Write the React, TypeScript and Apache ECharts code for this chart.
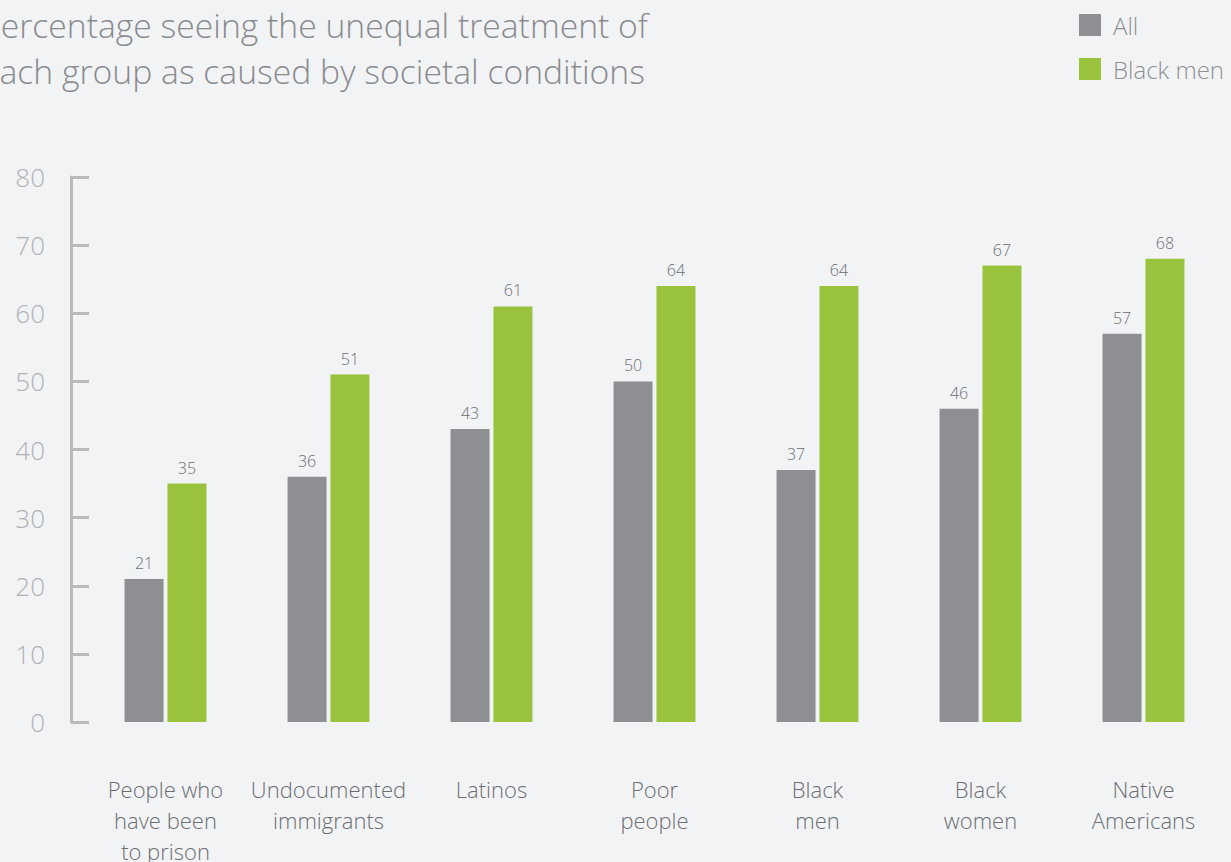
import React, { useEffect, useRef } from "react";
import * as echarts from "echarts";

const categories = [
  "People who\nhave been\nto prison",
  "Undocumented\nimmigrants",
  "Latinos",
  "Poor\npeople",
  "Black\nmen",
  "Black\nwomen",
  "Native\nAmericans",
];
const allValues = [21, 36, 43, 50, 37, 46, 57];
const blackMenValues = [35, 51, 61, 64, 64, 67, 68];
const titleText = "Percentage seeing the unequal treatment of\neach group as caused by societal conditions";

export default function App() {
  const ref = useRef<HTMLDivElement>(null);
  useEffect(() => {
    if (!ref.current) return;
    const chart = echarts.init(ref.current, null, { renderer: "svg" });
    const font = "'Open Sans', 'Noto Sans', sans-serif";
    chart.setOption({
      animation: false,
      backgroundColor: "#f2f3f5",
      textStyle: { fontFamily: font },
      graphic: [
        {
          type: "text",
          left: -19,
          top: 2,
          style: {
            text: titleText,
            fontSize: 33.7,
            lineHeight: 46,
            fontWeight: 300,
            fill: "#8a8b8f",
            fontFamily: font,
          },
        },
      ],
      legend: {
        orient: "vertical",
        left: 1074,
        top: 8,
        icon: "rect",
        itemWidth: 22,
        itemHeight: 22,
        itemGap: 20,
        textStyle: { fontSize: 24, color: "#8f9094", fontWeight: 300, padding: [0, 0, 0, 7] },
        data: ["All", "Black men"],
      },
      grid: { left: 84, right: 6, top: 177, bottom: 140, outerBoundsMode: "none" },
      xAxis: {
        type: "category",
        data: categories,
        axisLine: { show: false },
        axisTick: { show: false },
        axisLabel: {
          interval: 0,
          margin: 51,
          fontSize: 22,
          lineHeight: 31,
          color: "#6d6e72",
          fontWeight: 300,
        },
      },
      yAxis: {
        type: "value",
        min: 0,
        max: 80,
        interval: 10,
        offset: 13,
        axisLine: { show: true, lineStyle: { color: "#b9babc", width: 3 } },
        axisTick: { show: true, inside: true, length: 18, lineStyle: { color: "#b9babc", width: 3 } },
        splitLine: { show: false },
        axisLabel: { fontSize: 26, color: "#b0b1b4", margin: 26, fontWeight: 300 },
      },
      series: [
        {
          name: "All",
          type: "bar",
          data: allValues,
          barWidth: 39,
          barGap: "10%",
          itemStyle: { color: "#8e8f93" },
          label: { show: true, position: "top", distance: 8, fontSize: 16, color: "#6d6e72", fontWeight: 300 },
        },
        {
          name: "Black men",
          type: "bar",
          data: blackMenValues,
          barWidth: 39,
          itemStyle: { color: "#99c33c" },
          label: { show: true, position: "top", distance: 8, fontSize: 16, color: "#6d6e72", fontWeight: 300 },
        },
      ],
    });
    return () => chart.dispose();
  }, []);
  return <div ref={ref} style={{ width: 1231, height: 862, position: "absolute", left: 0, top: 0 }} />;
}
